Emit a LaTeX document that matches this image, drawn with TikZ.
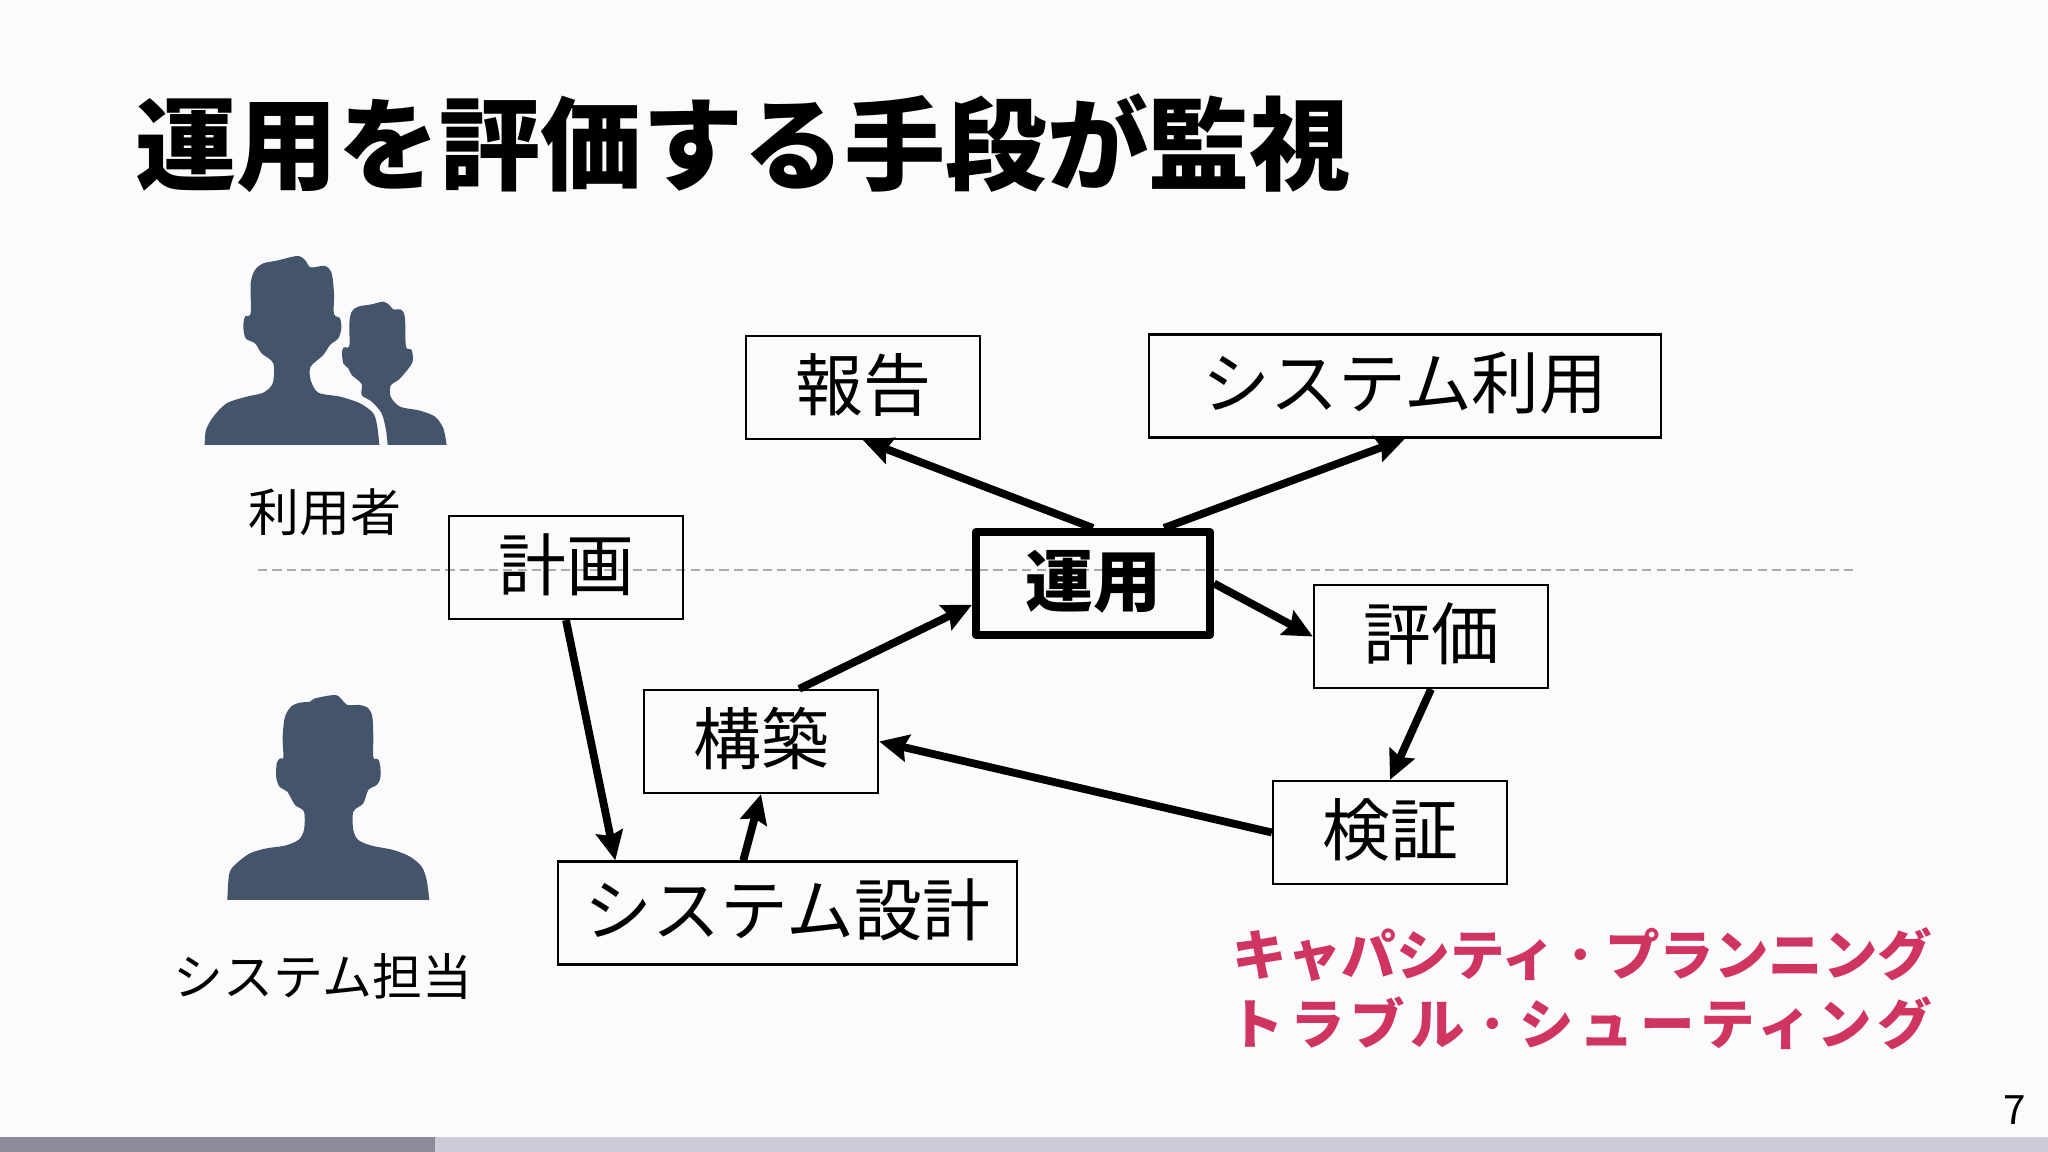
\documentclass[tikz,border=0pt]{standalone}
\usepackage{fontspec}
\setmainfont{Noto Sans CJK JP}
\usetikzlibrary{arrows.meta}
\definecolor{pagebg}{HTML}{FBFBFD}
\definecolor{slate}{HTML}{44546A}
\definecolor{accent}{HTML}{CF3560}
\definecolor{bardark}{HTML}{8C8A9B}
\definecolor{barlight}{HTML}{CCCBD8}
\tikzset{
    box/.style={draw,line width=0.64pt,minimum width=2.34cm,minimum height=1.03cm,inner sep=0pt,text depth=3.2pt,font=\fontsize{19.3pt}{23pt}\selectfont},
    mainbox/.style={box,line width=0.8mm,line join=round,font=\fontsize{19.3pt}{23pt}\selectfont\bfseries},
    link/.style={line width=0.78mm,-{Stealth[length=2.9mm,width=2.7mm,inset=0.4mm]}},
    caption/.style={font=\fontsize{14.5pt}{17pt}\selectfont},
    pink/.style={text=accent,font=\fontsize{15.5pt}{18pt}\selectfont\bfseries,inner sep=0pt,anchor=east}
}
\begin{document}
\begin{tikzpicture}[x=0.01cm,y=-0.01cm]
        \useasboundingbox (0,0) rectangle (2048,1152);
        \fill[pagebg] (0,0) rectangle (2048,1152);
        \fill[barlight] (0,1137) rectangle (2048,1152);
        \fill[bardark] (0,1137) rectangle (435,1152);
        \node[anchor=west,inner sep=0pt,font=\fontsize{28.8pt}{34pt}\selectfont\bfseries] (title) at (135,143) {運用を評価する手段が監視};
        \node[inner sep=0pt,font=\fontsize{11.5pt}{14pt}\selectfont] (pageno) at (2015,1110) {7};
        % people
        \begin{scope}[shift={(180,240)},scale=0.3333]
        \fill[slate] plot[smooth,tension=0.5] coordinates {(74,615) (78,570) (100,530) (140,490) (200,470) (250,458) (278,430) (280,370) (245,340) (225,310) (197,295) (190,260) (195,230) (212,220) (212,130) (225,90) (250,70) (290,62) (352,48) (375,60) (392,82) (435,78) (455,100) (462,160) (462,222) (480,235) (484,265) (475,295) (450,315) (430,345) (392,380) (392,420) (415,458) (480,470) (540,490) (580,520) (592,560) (598,615)} -- cycle;
        \fill[slate] plot[smooth,tension=0.5] coordinates {(623,615) (618,570) (605,520) (575,485) (545,465) (545,432) (515,405) (505,385) (490,370) (486,335) (492,322) (508,318) (508,250) (515,215) (535,200) (575,193) (610,185) (628,195) (640,208) (665,210) (675,235) (678,320) (695,330) (698,365) (678,395) (655,420) (632,437) (632,470) (660,500) (720,512) (765,530) (790,565) (800,615)} -- cycle;
        \end{scope}
        \begin{scope}[shift={(200,680)},scale=0.3333]
        \fill[slate] plot[smooth,tension=0.5] coordinates {(82,660) (88,580) (110,550) (150,520) (200,505) (255,497) (295,480) (312,450) (312,395) (285,375) (262,335) (240,322) (229,295) (230,250) (240,235) (250,232) (248,170) (255,110) (275,78) (300,68) (330,65) (345,55) (405,45) (425,58) (442,75) (480,75) (505,85) (517,110) (520,170) (520,232) (535,238) (541,260) (541,295) (530,315) (505,330) (490,370) (460,395) (460,450) (475,480) (515,497) (580,510) (630,530) (665,560) (680,600) (688,660)} -- cycle;
        \end{scope}
        \node[caption] (users) at (325,512) {利用者};
        \node[caption,font=\fontsize{14.2pt}{17pt}\selectfont] (sysop) at (323,977) {システム担当};
        \draw[gray!65,line width=0.6pt,dash pattern=on 2.65pt off 1.45pt] (258,570) -- (1855,570);
        % boxes
        \node[box] (report) at (863,387.5) {報告};
        \node[box,minimum width=5.12cm] (usage) at (1405,386) {システム利用};
        \node[box] (plan) at (566,567.5) {計画};
        \node[mainbox] (ops) at (1093,583.5) {運用};
        \node[box] (eval) at (1431,636.5) {評価};
        \node[box] (build) at (761,741.5) {構築};
        \node[box] (verify) at (1390,832.5) {検証};
        \node[box,minimum width=4.59cm] (design) at (787.5,913) {システム設計};
        % links
        \draw[link] (ops.north) -- (report.south);
        \draw[link] (ops.38) -- (usage.south);
        \draw[link] (build.54) -- (ops.190);
        \draw[link] (ops.east) -- (eval.west);
        \draw[link] (eval.south) -- (verify.north);
        \draw[link] (verify.west) -- (build.east);
        \draw[link] (design.130) -- (build.south);
        \draw[link] (plan.south) -- (design.163);
        \node[pink] (capacity) at (1933,955) {キャパシティ\hspace{-0.8pt}{\mdseries ・}\hspace{-0.8pt}プランニング};
        \node[pink] (trouble) at (1933,1023) {\addfontfeature{LetterSpace=10.5}トラブル{\mdseries ・}シューティング};
\end{tikzpicture}
\end{document}
